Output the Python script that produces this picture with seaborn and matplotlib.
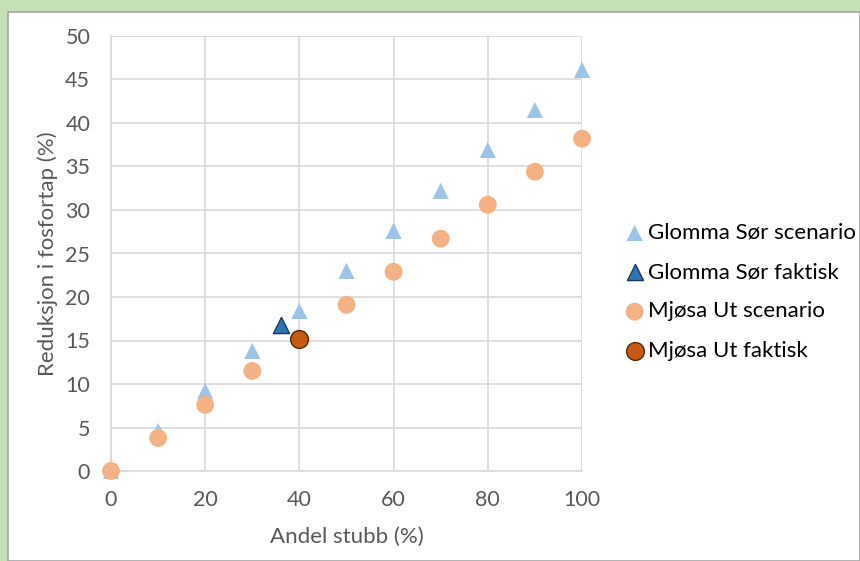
import matplotlib
matplotlib.use("Agg")
import matplotlib.pyplot as plt
from matplotlib.patches import Rectangle
import seaborn as sns
import pandas as pd

# Andel stubb (%) for the scenario series
andel = [0, 10, 20, 30, 40, 50, 60, 70, 80, 90, 100]
glomma_scenario = [0, 4.6, 9.2, 13.8, 18.4, 23.0, 27.6, 32.2, 36.9, 41.5, 46.1]
mjosa_scenario = [0, 3.8, 7.6, 11.5, 15.2, 19.1, 22.9, 26.7, 30.6, 34.4, 38.2]

# Actual (faktisk) observations
glomma_faktisk_x = [36]
glomma_faktisk_y = [16.8]
mjosa_faktisk_x = [40]
mjosa_faktisk_y = [15.2]

x_ticks = [0, 20, 40, 60, 80, 100]
y_ticks = [0, 5, 10, 15, 20, 25, 30, 35, 40, 45, 50]

sns.set_theme(style="white")
plt.rcParams["font.family"] = ["Lato", "DejaVu Sans"]

W, H = 860, 561
fig = plt.figure(figsize=(W / 100, H / 100), dpi=100)
fig.patch.set_facecolor("#C5E0B4")
# white chart area framed by the green page
fig.add_artist(Rectangle((8 / W, 0), 1 - 8 / W, 1 - 12 / H, transform=fig.transFigure,
                         facecolor="white", edgecolor="#A6A6A6", linewidth=1.2, zorder=0))

ax = fig.add_axes([111 / W, 1 - 471 / H, (582 - 111) / W, (471 - 36) / H])
ax.set_facecolor("none")

gl_s = pd.DataFrame({"x": andel, "y": glomma_scenario})
gl_f = pd.DataFrame({"x": glomma_faktisk_x, "y": glomma_faktisk_y})
mj_s = pd.DataFrame({"x": andel, "y": mjosa_scenario})
mj_f = pd.DataFrame({"x": mjosa_faktisk_x, "y": mjosa_faktisk_y})

sns.scatterplot(data=gl_s, x="x", y="y", ax=ax, marker="^", s=135, color="#9DC3E6",
                edgecolor="none", label="Glomma Sør scenario", clip_on=False, zorder=3)
sns.scatterplot(data=gl_f, x="x", y="y", ax=ax, marker="^", s=135, color="#2E75B6",
                edgecolor="#1F3B5C", linewidth=1, label="Glomma Sør faktisk", clip_on=False, zorder=4)
sns.scatterplot(data=mj_s, x="x", y="y", ax=ax, marker="o", s=165, color="#F4B183",
                edgecolor="none", label="Mjøsa Ut scenario", clip_on=False, zorder=5)
sns.scatterplot(data=mj_f, x="x", y="y", ax=ax, marker="o", s=165, color="#C55A11",
                edgecolor="#5A2A08", linewidth=1, label="Mjøsa Ut faktisk", clip_on=False, zorder=6)

ax.set_xlim(0, 100)
ax.set_ylim(0, 50)
ax.set_xticks(x_ticks)
ax.set_yticks(y_ticks)
ax.grid(True, color="#D9D9D9", linewidth=1.2)
ax.set_axisbelow(True)
for s in ["top", "right"]:
    ax.spines[s].set_visible(False)
for s in ["left", "bottom"]:
    ax.spines[s].set_color("#D9D9D9")
    ax.spines[s].set_linewidth(1.2)
ax.tick_params(axis="both", length=0, labelsize=15.5, labelcolor="#595959")
ax.tick_params(axis="y", pad=15)
ax.tick_params(axis="x", pad=14)
ax.set_xlabel("Andel stubb (%)", fontsize=16, color="#595959", labelpad=12)
ax.set_ylabel("Reduksjon i fosfortap (%)", fontsize=16, color="#595959", labelpad=5)

leg = ax.legend(loc="upper left", bbox_to_anchor=(1.074, 0.591), frameon=False,
                fontsize=16, handletextpad=0.18, labelspacing=0.87,
                handlelength=0.8, borderaxespad=0)
for t in leg.get_texts():
    t.set_color("#000000")

fig.savefig("out.png", dpi=100, facecolor=fig.get_facecolor())
